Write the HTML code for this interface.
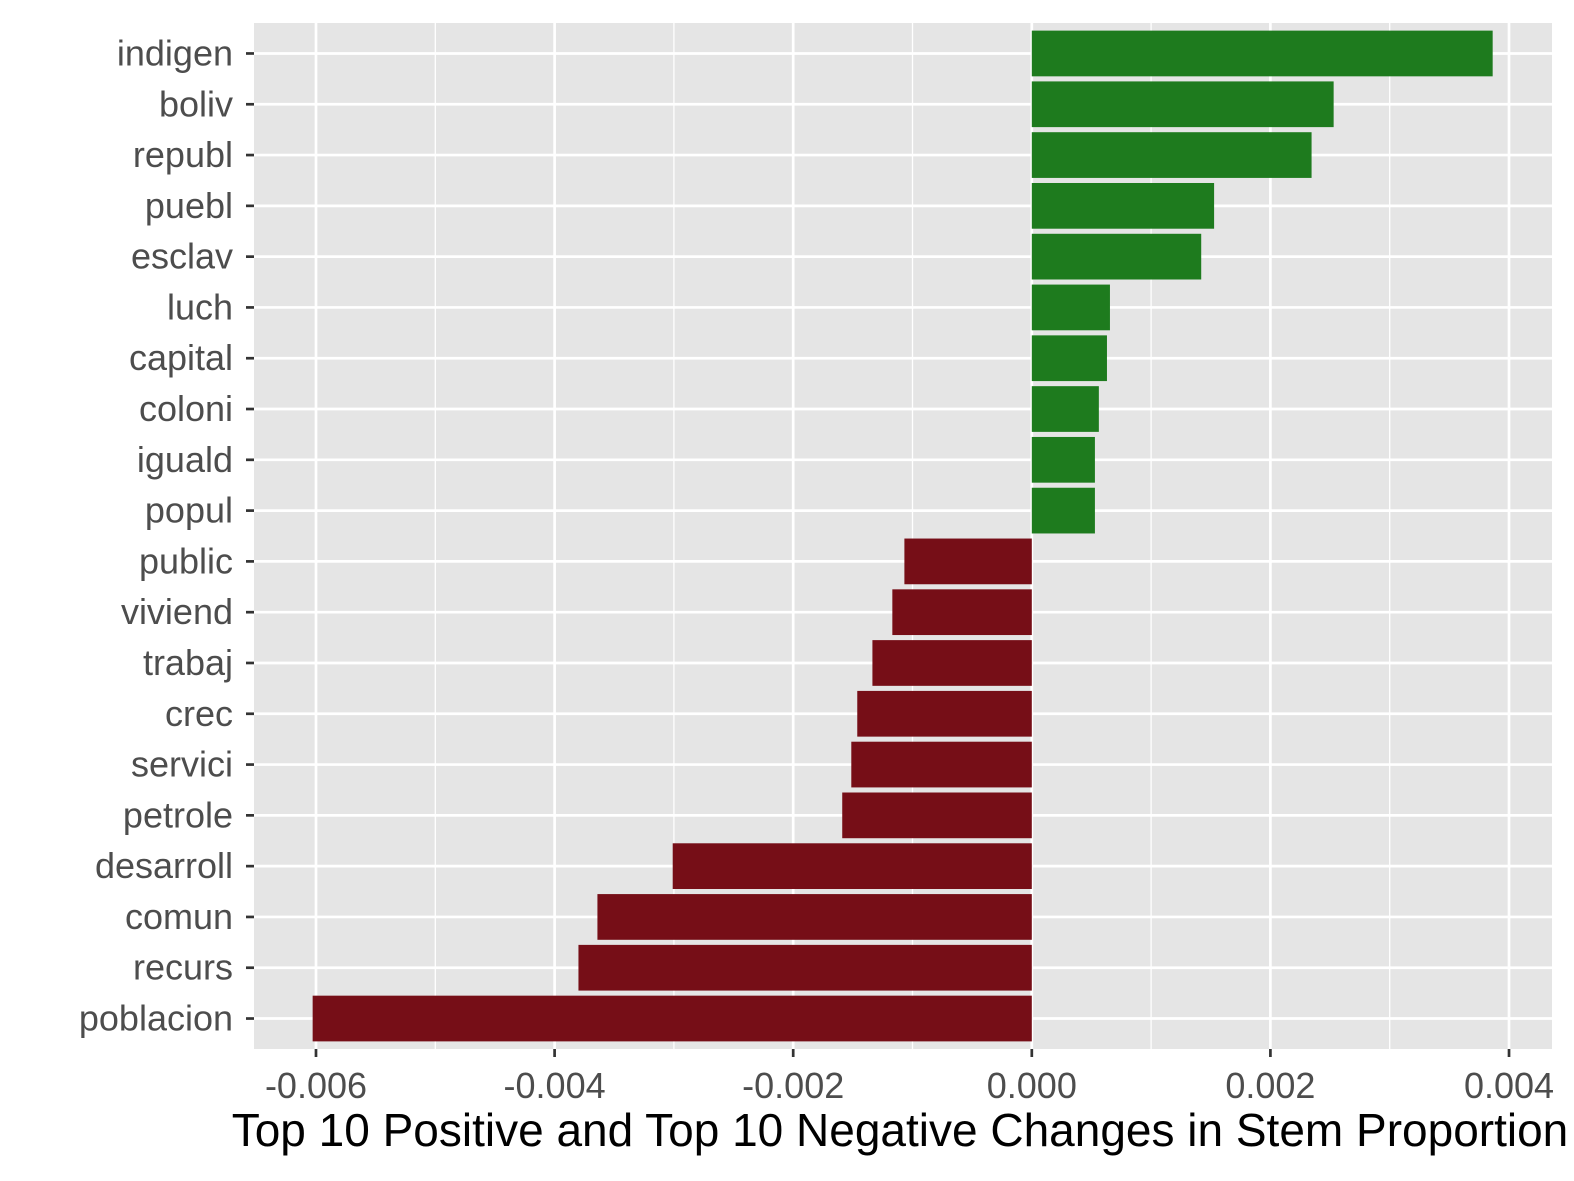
<!DOCTYPE html>
<html><head><meta charset="utf-8"><style>
html,body{margin:0;background:#fff;overflow:hidden}
svg{display:block}
svg text{font-family:"Liberation Sans",Arial,sans-serif}
</style></head><body>
<svg id="chart" width="1574" height="1181" xmlns="http://www.w3.org/2000/svg">
<rect x="254" y="23" width="1298" height="1026" fill="#e5e5e5"/>
<g id="grid"></g><g id="bars"></g><g id="yaxis"></g><g id="xaxis"></g>
<text x="900" y="1146" font-size="46" text-anchor="middle" fill="#000">Top 10 Positive and Top 10 Negative Changes in Stem Proportion</text>
</svg>
<script>
const categories=["indigen","boliv","republ","puebl","esclav","luch","capital","coloni","iguald","popul","public","viviend","trabaj","crec","servici","petrole","desarroll","comun","recurs","poblacion"];
const values=[0.003863,0.002530,0.002345,0.001528,0.001420,0.000655,0.00063,0.000562,0.000529,0.000529,-0.001068,-0.001169,-0.001336,-0.001463,-0.001513,-0.001589,-0.003010,-0.003641,-0.003800,-0.006028];
const xTicks=[-0.006,-0.004,-0.002,0,0.002,0.004];
const xTickLabels=["-0.006","-0.004","-0.002","0.000","0.002","0.004"];
const xMinor=[-0.005,-0.003,-0.001,0.001,0.003];
const NS="http://www.w3.org/2000/svg";
const L=254,R=1552,T=23,B=1049;
const xmin=-0.0065196,xmax=0.0043603;
const x=v=>L+(v-xmin)/(xmax-xmin)*(R-L);
const step=(B-T)/(categories.length+0.2);
const y=i=>T+step*0.6+i*step;
function mk(tag,attrs,parent){const e=document.createElementNS(NS,tag);for(const k in attrs)e.setAttribute(k,attrs[k]);document.getElementById(parent).appendChild(e);return e;}
xMinor.forEach(v=>{const e=mk("line",{x1:x(v),x2:x(v),y1:T,y2:B,stroke:"#fff","stroke-width":1.3},"grid");

});
xTicks.forEach((v,i)=>{const e=mk("line",{x1:x(v),x2:x(v),y1:T,y2:B,stroke:"#fff","stroke-width":2.7},"grid");


const t=mk("line",{x1:x(v),x2:x(v),y1:B,y2:B+8,stroke:"#333","stroke-width":2.7},"xaxis");


const l=mk("text",{x:x(v),y:B+49,"font-size":36,"text-anchor":"middle",fill:"#4d4d4d"},"xaxis");l.textContent=xTickLabels[i];

});
categories.forEach((c,i)=>{const cy=y(i);
const g=mk("line",{x1:L,x2:R,y1:cy,y2:cy,stroke:"#fff","stroke-width":2.7},"grid");


const v=values[i];const x0=x(Math.min(0,v)),x1=x(Math.max(0,v));
const b=mk("rect",{x:x0,y:cy-step*0.45,width:x1-x0,height:step*0.9,fill:v>=0?"#1e7b1e":"#760e17"},"bars");


const t=mk("line",{x1:L-8,x2:L,y1:cy,y2:cy,stroke:"#333","stroke-width":2.7},"yaxis");


const l=mk("text",{x:L-21,y:cy+12,"font-size":36,"text-anchor":"end",fill:"#4d4d4d"},"yaxis");l.textContent=c;

});
</script>
</body></html>
